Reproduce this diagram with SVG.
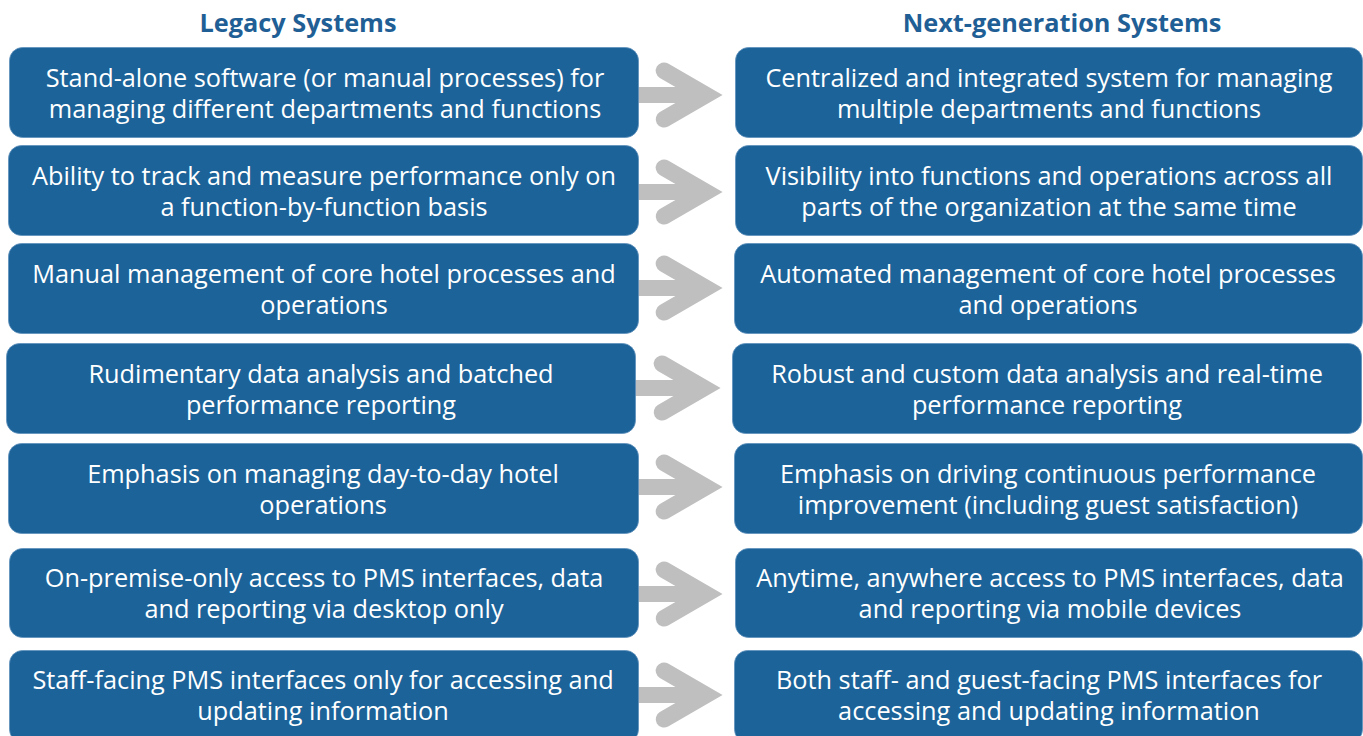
<svg xmlns="http://www.w3.org/2000/svg" width="1363" height="736" viewBox="0 0 1363 736">
<defs>
<style>
.box{fill:#1B6399;stroke:#5E8FBB;stroke-width:0.8}
.t{font-family:"Open Sans","Noto Sans",sans-serif;font-size:25.3px;fill:#FFFFFF;text-anchor:middle}
.h{font-family:"Open Sans","Noto Sans",sans-serif;font-size:25.3px;font-weight:bold;fill:#1F5F96;text-anchor:middle}
.shaft{stroke:#BFBFBF;stroke-width:16;fill:none}
.head{stroke:#BFBFBF;stroke-width:16.6;fill:none;stroke-linecap:round;stroke-linejoin:miter}
</style>
</defs>
<rect width="1363" height="736" fill="#FFFFFF"/>
<text class="h" x="298" y="32">Legacy Systems</text>
<text class="h" x="1062" y="32">Next-generation Systems</text>
<g id="connectors">
<g id="a1"><line class="shaft" x1="636" y1="95" x2="704" y2="95"/><polyline class="head" points="664,70.7 706,95 664,119.3"/></g>
<g id="a2"><line class="shaft" x1="636" y1="192" x2="704" y2="192"/><polyline class="head" points="664,167.7 706,192 664,216.3"/></g>
<g id="a3"><line class="shaft" x1="636" y1="288" x2="704" y2="288"/><polyline class="head" points="664,263.7 706,288 664,312.3"/></g>
<g id="a4"><line class="shaft" x1="633" y1="388" x2="702" y2="388"/><polyline class="head" points="662,363.7 704,388 662,412.3"/></g>
<g id="a5"><line class="shaft" x1="636" y1="487" x2="704" y2="487"/><polyline class="head" points="664,462.7 706,487 664,511.3"/></g>
<g id="a6"><line class="shaft" x1="636" y1="594" x2="704" y2="594"/><polyline class="head" points="664,569.7 706,594 664,618.3"/></g>
<g id="a7"><line class="shaft" x1="636" y1="695" x2="704" y2="695"/><polyline class="head" points="664,670.7 706,695 664,719.3"/></g>
</g>
<g id="l1"><rect class="box" x="9.5" y="47.5" width="629" height="90" rx="13"/>
<text class="t" x="325" y="87">Stand-alone software (or manual processes) for</text>
<text class="t" x="325" y="118">managing different departments and functions</text></g>
<g id="r1"><rect class="box" x="735.5" y="47.5" width="627" height="90" rx="13"/>
<text class="t" x="1049" y="87">Centralized and integrated system for managing</text>
<text class="t" x="1049" y="118">multiple departments and functions</text></g>
<g id="l2"><rect class="box" x="8.5" y="145.5" width="630" height="90" rx="13"/>
<text class="t" x="324" y="185">Ability to track and measure performance only on</text>
<text class="t" x="324" y="216">a function-by-function basis</text></g>
<g id="r2"><rect class="box" x="735.5" y="145.5" width="627" height="90" rx="13"/>
<text class="t" x="1049" y="185">Visibility into functions and operations across all</text>
<text class="t" x="1049" y="216">parts of the organization at the same time</text></g>
<g id="l3"><rect class="box" x="8.5" y="243.5" width="630" height="90" rx="13"/>
<text class="t" x="324" y="283">Manual management of core hotel processes and</text>
<text class="t" x="324" y="314">operations</text></g>
<g id="r3"><rect class="box" x="734.5" y="243.5" width="628" height="90" rx="13"/>
<text class="t" x="1048" y="283">Automated management of core hotel processes</text>
<text class="t" x="1048" y="314">and operations</text></g>
<g id="l4"><rect class="box" x="6.5" y="343.5" width="629" height="90" rx="13"/>
<text class="t" x="321" y="383">Rudimentary data analysis and batched</text>
<text class="t" x="321" y="414">performance reporting</text></g>
<g id="r4"><rect class="box" x="732.5" y="343.5" width="629" height="90" rx="13"/>
<text class="t" x="1047" y="383">Robust and custom data analysis and real-time</text>
<text class="t" x="1047" y="414">performance reporting</text></g>
<g id="l5"><rect class="box" x="8.5" y="443.5" width="630" height="90" rx="13"/>
<text class="t" x="323" y="483">Emphasis on managing day-to-day hotel</text>
<text class="t" x="323" y="514">operations</text></g>
<g id="r5"><rect class="box" x="734.5" y="443.5" width="628" height="90" rx="13"/>
<text class="t" x="1048" y="483">Emphasis on driving continuous performance</text>
<text class="t" x="1048" y="514">improvement (including guest satisfaction)</text></g>
<g id="l6"><rect class="box" x="9.5" y="548.5" width="629" height="89" rx="13"/>
<text class="t" x="324" y="587">On-premise-only access to PMS interfaces, data</text>
<text class="t" x="324" y="618">and reporting via desktop only</text></g>
<g id="r6"><rect class="box" x="735.5" y="548.5" width="627" height="89" rx="13"/>
<text class="t" x="1050" y="587">Anytime, anywhere access to PMS interfaces, data</text>
<text class="t" x="1050" y="618">and reporting via mobile devices</text></g>
<g id="l7"><rect class="box" x="9.5" y="650.5" width="629" height="92" rx="13"/>
<text class="t" x="323" y="689">Staff-facing PMS interfaces only for accessing and</text>
<text class="t" x="323" y="720">updating information</text></g>
<g id="r7"><rect class="box" x="734.5" y="650.5" width="628" height="92" rx="13"/>
<text class="t" x="1049" y="689">Both staff- and guest-facing PMS interfaces for</text>
<text class="t" x="1049" y="720">accessing and updating information</text></g>
</svg>
